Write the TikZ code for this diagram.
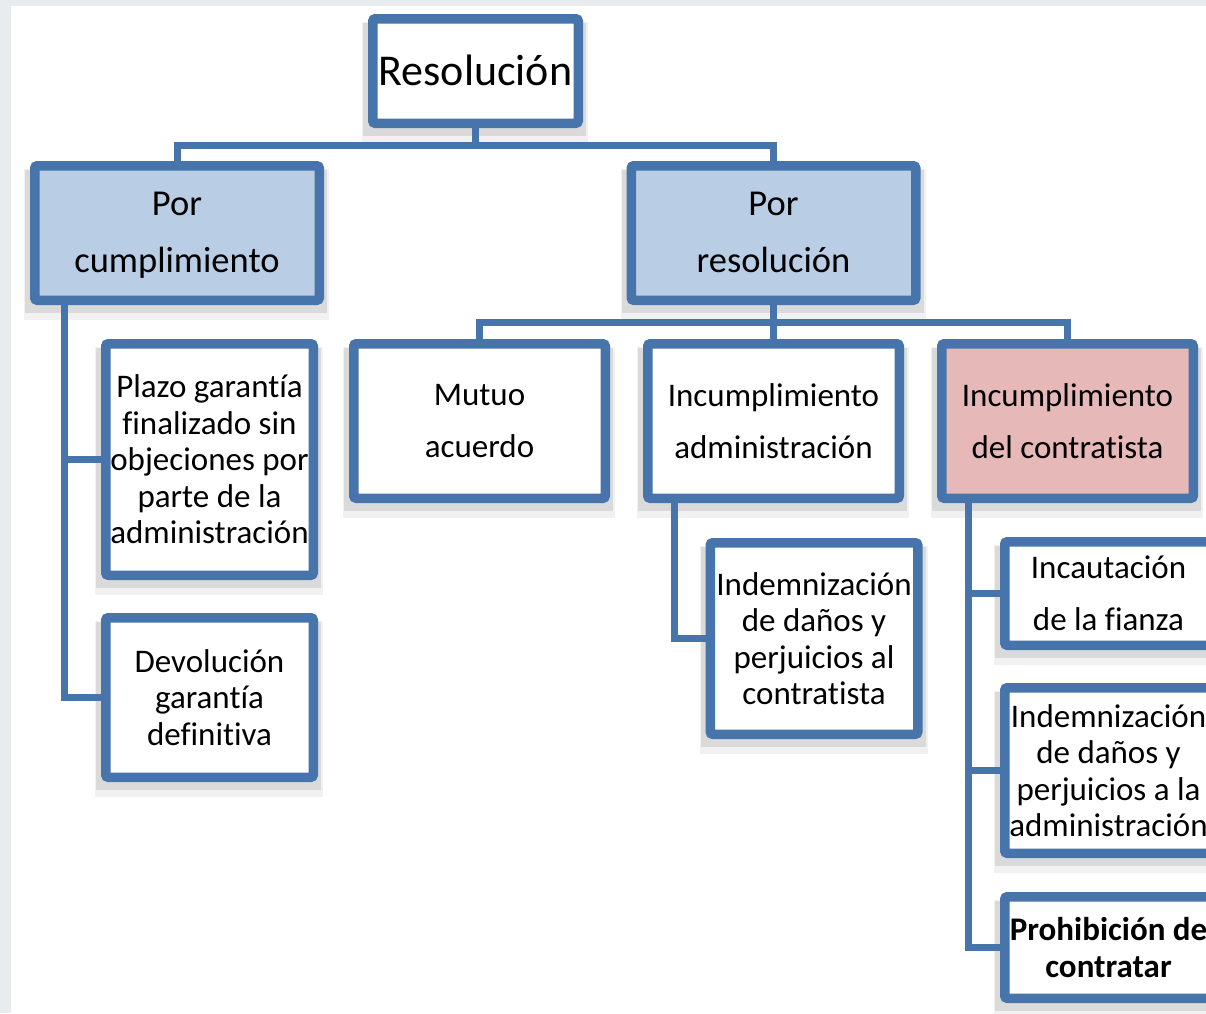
\documentclass[tikz,border=0pt]{standalone}
\usepackage{fontspec}
\setmainfont{Carlito}[Ligatures=NoCommon]
\definecolor{bblue}{RGB}{72,116,172}
\definecolor{pfill}{RGB}{185,205,229}
\definecolor{rfill}{RGB}{230,185,184}
\definecolor{framegray}{RGB}{233,236,238}
\definecolor{shdark}{RGB}{218,218,218}
\definecolor{shlight}{RGB}{241,241,241}
\pgfdeclarelayer{back}
\pgfdeclarelayer{mid}
\pgfsetlayers{back,mid,main}
\newcommand\shadowof[1]{%
  \fill[shlight] ([xshift=-6pt,yshift=-8pt]#1.north west) rectangle ([xshift=5pt,yshift=-15pt]#1.south east);
  \fill[shdark] ([xshift=-5pt,yshift=-9pt]#1.north west) rectangle ([xshift=3pt,yshift=-8pt]#1.south east);}
\begin{document}
\begin{tikzpicture}[x=1pt,y=-1pt,
  box/.style={draw=bblue, line width=9.5pt, rounded corners=2.5pt, fill=white, inner sep=0pt},
  conn/.style={draw=bblue, line width=7pt},
  txt/.style={align=center, inner sep=0pt, text=black},
  fbig/.style={font=\fontsize{44}{50}\selectfont},
  fpor/.style={font=\fontsize{36.5}{57}\selectfont},
  fmid/.style={font=\fontsize{33}{52}\selectfont},
  fsm/.style={font=\fontsize{33}{36.5}\selectfont},
]
\useasboundingbox (0,0) rectangle (1206,1013);
\clip (0,0) rectangle (1206,1013);

% boxes
\node[box, minimum width=205.5pt, minimum height=104.5pt] (res) at (475.5,71) {};
\node[box, fill=pfill, minimum width=284.5pt, minimum height=134.5pt] (pc) at (177,233) {};
\node[box, fill=pfill, minimum width=284.5pt, minimum height=134.5pt] (pr) at (773.5,233) {};
\node[box, minimum width=251.5pt, minimum height=154.5pt] (mu) at (479.5,421) {};
\node[box, minimum width=251.5pt, minimum height=154.5pt] (ia) at (773.5,421) {};
\node[box, fill=rfill, minimum width=251.5pt, minimum height=154.5pt] (ic) at (1067.5,421) {};
\node[box, minimum width=207.5pt, minimum height=231.5pt] (pl) at (209.5,459.5) {};
\node[box, minimum width=207.5pt, minimum height=159.5pt] (dv) at (209.5,697.5) {};
\node[box, minimum width=207.5pt, minimum height=191.5pt] (ina) at (814,638.5) {};
\node[box, minimum width=207.5pt, minimum height=103.5pt] (inc) at (1108.5,593.5) {};
\node[box, minimum width=207.5pt, minimum height=165.5pt] (ind) at (1108.5,770.5) {};
\node[box, minimum width=207.5pt, minimum height=101.5pt] (pro) at (1108.5,947.5) {};

% texts
\node[txt, fbig] (res-t) at ([yshift=1pt]res.center) {Resolución};
\node[txt, fpor] (pc-t) at ([yshift=-2pt]pc.center) {Por\\cumplimiento};
\node[txt, fpor] (pr-t) at ([yshift=1pt]pr.center) {Por\\resolución};
\node[txt, fmid] (mu-t) at (mu) {Mutuo\\acuerdo};
\node[txt, fmid] (ia-t) at (ia) {Incumplimiento\\administración};
\node[txt, fmid] (ic-t) at (ic) {Incumplimiento\\del contratista};
\node[txt, fsm] (pl-t) at (pl) {Plazo garantía\\finalizado sin\\objeciones por\\parte de la\\administración};
\node[txt, fsm] (dv-t) at (dv) {Devolución\\garantía\\definitiva};
\node[txt, fsm] (ina-t) at (ina) {Indemnización\\de daños y\\perjuicios al\\contratista};
\node[txt, fmid] (inc-t) at (inc) {Incautación\\de la fianza};
\node[txt, fsm] (ind-t) at (ind) {Indemnización\\de daños y\\perjuicios a la\\administración};
\node[txt, fsm, font=\fontsize{33}{36.5}\selectfont\bfseries] (pro-t) at (pro) {Prohibición de\\contratar};

\begin{pgfonlayer}{back}
  \clip (0,0) rectangle (1206,1013);
  \fill[framegray] (0,0) rectangle (1206,1013);
  \fill[white] (11,6) rectangle (1206,1013);
\end{pgfonlayer}

\begin{pgfonlayer}{mid}
  \clip (0,0) rectangle (1206,1013);
  \shadowof{res}\shadowof{pc}\shadowof{pr}\shadowof{mu}\shadowof{ia}\shadowof{ic}
  \shadowof{pl}\shadowof{dv}\shadowof{ina}\shadowof{inc}\shadowof{ind}\shadowof{pro}
  % connectors
  \draw[conn] (res.south) -- ++(0,17) coordinate (j1);
  \draw[conn] (pc.north) |- (j1) -| (pr.north);
  \draw[conn] (pr.south) -- ++(0,17) coordinate (j2);
  \draw[conn] (mu.north) |- (j2) -| (ic.north);
  \draw[conn] (j2) -- (ia.north);
  \draw[conn] ([xshift=34pt]pc.south west) |- (pl.west);
  \draw[conn] ([xshift=34pt]pc.south west) |- (dv.west);
  \draw[conn] ([xshift=31.5pt]ia.south west) |- (ina.west);
  \draw[conn] ([xshift=31.5pt]ic.south west) |- (inc.west);
  \draw[conn] ([xshift=31.5pt]ic.south west) |- (ind.west);
  \draw[conn] ([xshift=31.5pt]ic.south west) |- (pro.west);
\end{pgfonlayer}
\end{tikzpicture}
\end{document}
